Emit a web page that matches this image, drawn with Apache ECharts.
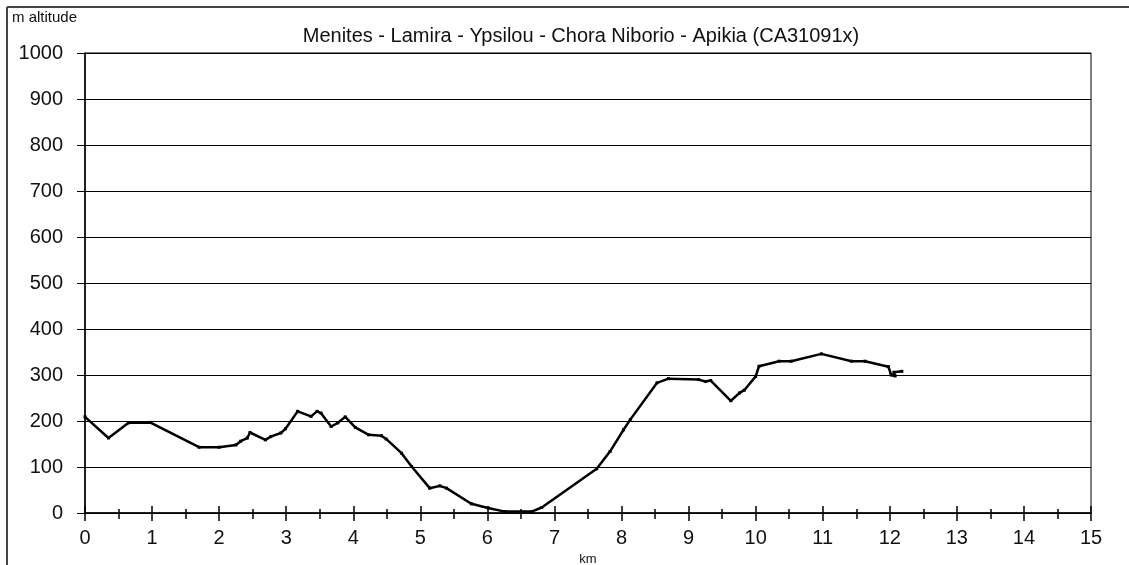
<!DOCTYPE html>
<html>
<head>
<meta charset="utf-8">
<script src="https://cdn.jsdelivr.net/npm/echarts@6/dist/echarts.min.js"></script>
<style>
html,body{margin:0;padding:0;background:#fff;}
#c{width:1129px;height:565px;}
</style>
</head>
<body>
<div id="c"></div>
<script>
const titleText = 'Menites - Lamira - Ypsilou - Chora Niborio - Apikia (CA31091x)';
const yName = 'm altitude';
const xName = 'km';
const km = [0, 0.35, 0.65, 0.97, 1.70, 2.00, 2.25, 2.32, 2.42, 2.46, 2.69, 2.77, 2.92, 2.99, 3.17, 3.37, 3.46, 3.52, 3.67, 3.77, 3.88, 4.03, 4.23, 4.42, 4.49, 4.72, 4.87, 5.14, 5.29, 5.39, 5.76, 6.01, 6.26, 6.66, 6.81, 7.63, 7.83, 8.03, 8.13, 8.53, 8.70, 9.15, 9.25, 9.33, 9.63, 9.76, 9.83, 10.00, 10.05, 10.35, 10.53, 10.98, 11.43, 11.63, 11.98, 12.02, 12.08, 12.06, 12.18];
const alt = [209, 163, 196, 197, 143, 143, 148, 156, 163, 175, 159, 166, 174, 183, 221, 210, 221, 217, 188, 196, 209, 186, 170, 168, 161, 130, 101, 54, 59, 54, 20, 11, 3, 3, 12, 96, 134, 181, 203, 283, 292, 290, 286, 288, 244, 261, 267, 297, 319, 330, 330, 346, 330, 330, 318, 300, 298, 306, 308];

const font = 'Liberation Sans, Arial, sans-serif';
const G = {left: 85, right: 38, top: 53, bottom: 52, containLabel: false, outerBoundsMode: 'none'};
const tickStyle = {color: '#000', width: 1.5};
const chart = echarts.init(document.getElementById('c'));
chart.setOption({
  animation: false,
  backgroundColor: '#fff',
  title: {
    text: titleText, left: 576, top: 21, textAlign: 'center',
    textStyle: {fontFamily: font, fontSize: 20, fontWeight: 'normal', color: '#111'}
  },
  graphic: [
    {type: 'line', shape: {x1: 7, y1: 7, x2: 1129, y2: 7}, style: {stroke: '#444', lineWidth: 2}},
    {type: 'line', shape: {x1: 7, y1: 7, x2: 7, y2: 565}, style: {stroke: '#444', lineWidth: 2}},
    {type: 'text', left: 12, top: 10, style: {text: yName, font: '15px ' + font, fill: '#111'}}
  ],
  grid: [
    Object.assign({show: true, borderColor: '#000', borderWidth: 1, backgroundColor: 'transparent'}, G),
    Object.assign({}, G),
    Object.assign({}, G)
  ],
  xAxis: [
    {
      gridIndex: 0, type: 'value', min: 0, max: 15, interval: 1,
      name: xName, nameLocation: 'middle', nameGap: 34,
      nameTextStyle: {fontFamily: font, fontSize: 13, color: '#111'},
      axisLine: {onZero: false, lineStyle: {color: '#000', width: 1.5}},
      axisTick: {show: false},
      splitLine: {show: false},
      axisLabel: {fontFamily: font, fontSize: 20, color: '#111', margin: 15}
    },
    {
      gridIndex: 1, type: 'value', min: 0, max: 15, interval: 1, position: 'bottom', offset: -7,
      axisLine: {show: false},
      axisTick: {show: true, inside: false, length: 15, lineStyle: tickStyle},
      splitLine: {show: false},
      axisLabel: {show: false}
    },
    {
      gridIndex: 2, type: 'value', min: 0, max: 15, interval: 1, position: 'bottom', offset: -4,
      axisLine: {show: false},
      axisTick: {show: false},
      minorTick: {show: true, splitNumber: 2, length: 10, lineStyle: tickStyle},
      splitLine: {show: false},
      axisLabel: {show: false}
    }
  ],
  yAxis: [
    {
      gridIndex: 0, type: 'value', min: 0, max: 1000, interval: 100,
      axisLine: {show: true, onZero: false, lineStyle: {color: '#000', width: 1.5}},
      axisTick: {show: true, length: 8, lineStyle: {color: '#000', width: 1}},
      splitLine: {show: true, lineStyle: {color: '#000', width: 1}},
      axisLabel: {fontFamily: font, fontSize: 20, color: '#111', margin: 22, formatter: v => String(v)}
    },
    {gridIndex: 1, type: 'value', min: 0, max: 1000, interval: 100, show: false},
    {gridIndex: 2, type: 'value', min: 0, max: 1000, interval: 100, show: false}
  ],
  series: [{
    type: 'line',
    xAxisIndex: 0, yAxisIndex: 0,
    data: km.map((k, i) => [k, alt[i]]),
    showSymbol: true, symbol: 'rect', symbolSize: 3,
    itemStyle: {color: '#000'},
    lineStyle: {color: '#000', width: 2.5},
    z: 5
  }]
});
</script>
</body>
</html>
